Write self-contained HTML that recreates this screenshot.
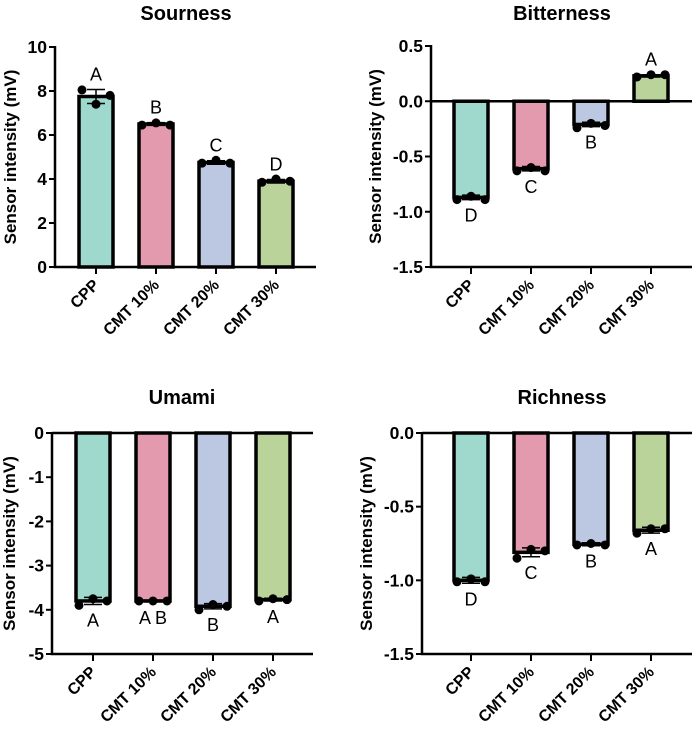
<!DOCTYPE html>
<html><head><meta charset="utf-8"><style>
body{margin:0;background:#fff}
svg{display:block;font-family:"Liberation Sans",Arial,sans-serif}
</style></head><body>
<svg id="c" width="697" height="733" viewBox="0 0 697 733"></svg>
<script>
const categories=["CPP","CMT 10%","CMT 20%","CMT 30%"];
const colors=["#9fd8cc","#e49aae","#bcc7e2","#b9d39a"];
const sourMeans=[7.75,6.5,4.75,3.9];
const sourErr=[0.32,0.06,0.08,0.08];
const sourPts=[[8.05,7.4,7.8],[6.45,6.55,6.45],[4.72,4.85,4.72],[3.85,4.0,3.9]];
const sourLetters=["A","B","C","D"];
const sourTicks=[0,2,4,6,8,10];
const bitMeans=[-0.87,-0.61,-0.21,0.23];
const bitErr=[0.02,0.02,0.02,0.01];
const bitPts=[[-0.89,-0.86,-0.89],[-0.63,-0.60,-0.63],[-0.24,-0.20,-0.22],[0.22,0.24,0.24]];
const bitLetters=["D","C","B","A"];
const bitTicks=[-1.5,-1.0,-0.5,0.0,0.5];
const umaMeans=[-3.8,-3.8,-3.92,-3.77];
const umaErr=[0.08,0.02,0.06,0.03];
const umaPts=[[-3.9,-3.75,-3.8],[-3.8,-3.8,-3.8],[-4.0,-3.88,-3.92],[-3.8,-3.75,-3.77]];
const umaLetters=["A","A B","B","A"];
const umaTicks=[-5,-4,-3,-2,-1,0];
const richMeans=[-1.0,-0.81,-0.755,-0.66];
const richErr=[0.02,0.03,0.01,0.02];
const richPts=[[-1.01,-0.99,-1.01],[-0.85,-0.79,-0.80],[-0.76,-0.75,-0.76],[-0.68,-0.65,-0.65]];
const richLetters=["D","C","B","A"];
const richTicks=[-1.5,-1.0,-0.5,0.0];

const svg=document.getElementById('c');
const NS="http://www.w3.org/2000/svg";
function mk(tag,attrs,parent,text){const e=document.createElementNS(NS,tag);for(const k in attrs)e.setAttribute(k,attrs[k]);if(text!==undefined)e.textContent=text;parent.appendChild(e);return e;}

function panel(o){
  const g=mk('g',{},svg);
  
  
  const y=v=>o.y0+(o.max-v)/(o.max-o.min)*(o.y1-o.y0);
  const t=mk('text',{x:o.tx,y:o.ty,'text-anchor':'middle','font-size':20,'font-weight':'bold'},g,o.title);
  
  
  const yt=mk('text',{transform:`translate(${o.ytx},${(o.y0+o.y1)/2}) rotate(-90)`,'text-anchor':'middle','font-size':17,'font-weight':'bold'},g,"Sensor intensity (mV)");
  
  
  const base=y(0);
  o.means.forEach((m,i)=>{
    const cx=o.cx0+i*o.dx;
    const top=Math.min(y(m),base),h=Math.abs(y(m)-base);
    const b=mk('rect',{x:cx-17,y:top,width:34,height:h,fill:colors[i],stroke:'#000','stroke-width':3.5},g);
    
    
    const e1=y(m+o.err[i]),e2=y(m-o.err[i]);
    const el=mk('path',{d:`M${cx} ${e1}V${e2}M${cx-9} ${e1}H${cx+9}M${cx-9} ${e2}H${cx+9}`,stroke:'#000','stroke-width':1.5,fill:'none'},g);
    
    
    o.pts[i].forEach((p,j)=>{
      const d=mk('circle',{cx:cx+(j-1)*14,cy:y(p),r:4.5,fill:'#000'},g);
      
      
    });
    const ly=m>=0?y(m+o.err[i])-9:y(m-o.err[i])+22;
    const L=mk('text',{x:cx,y:ly,'text-anchor':'middle','font-size':18},g,o.letters[i]);
    
    
    const tk=mk('line',{x1:cx,x2:cx,y1:o.y1,y2:o.y1+7,stroke:'#000','stroke-width':2},g);
    
    
    const cl=mk('text',{transform:`translate(${cx+4},${o.y1+19}) rotate(-45)`,'text-anchor':'end','font-size':16,'font-weight':'bold'},g,categories[i]);
    
    
  });
  const ax=mk('path',{d:`M${o.ax} ${o.y0-1}V${o.y1}H${o.xr}`,stroke:'#000','stroke-width':2.5,fill:'none'},g);
  
  
  if(o.min<0){
    const z=mk('line',{x1:o.ax,x2:o.xr,y1:base,y2:base,stroke:'#000','stroke-width':2.5},g);
    
    
  }
  o.ticks.forEach(v=>{
    const tl=mk('line',{x1:o.ax-6,x2:o.ax,y1:y(v),y2:y(v),stroke:'#000','stroke-width':2},g);
    
    
    const tt=mk('text',{x:o.ax-8,y:y(v)+6,'text-anchor':'end','font-size':17.5,'font-weight':'bold'},g,o.fmt(v));
    
    
  });
}
const f0=v=>String(v), f1=v=>v.toFixed(1);
panel({key:'sourness',title:'Sourness',tx:186,ty:20,ytx:16,ax:55,xr:316,y0:47,y1:267,min:0,max:10,cx0:96,dx:60,means:sourMeans,err:sourErr,pts:sourPts,letters:sourLetters,ticks:sourTicks,fmt:f0});
panel({key:'bitterness',title:'Bitterness',tx:562,ty:20,ytx:381,ax:431,xr:692,y0:46,y1:267,min:-1.5,max:0.5,cx0:471,dx:60,means:bitMeans,err:bitErr,pts:bitPts,letters:bitLetters,ticks:bitTicks,fmt:f1});
panel({key:'umami',title:'Umami',tx:182,ty:404,ytx:15,ax:52,xr:313,y0:433,y1:654,min:-5,max:0,cx0:93,dx:60,means:umaMeans,err:umaErr,pts:umaPts,letters:umaLetters,ticks:umaTicks,fmt:f0});
panel({key:'richness',title:'Richness',tx:562,ty:404,ytx:372,ax:422,xr:692,y0:433,y1:654,min:-1.5,max:0,cx0:471,dx:60,means:richMeans,err:richErr,pts:richPts,letters:richLetters,ticks:richTicks,fmt:f1});
</script>
</body></html>
